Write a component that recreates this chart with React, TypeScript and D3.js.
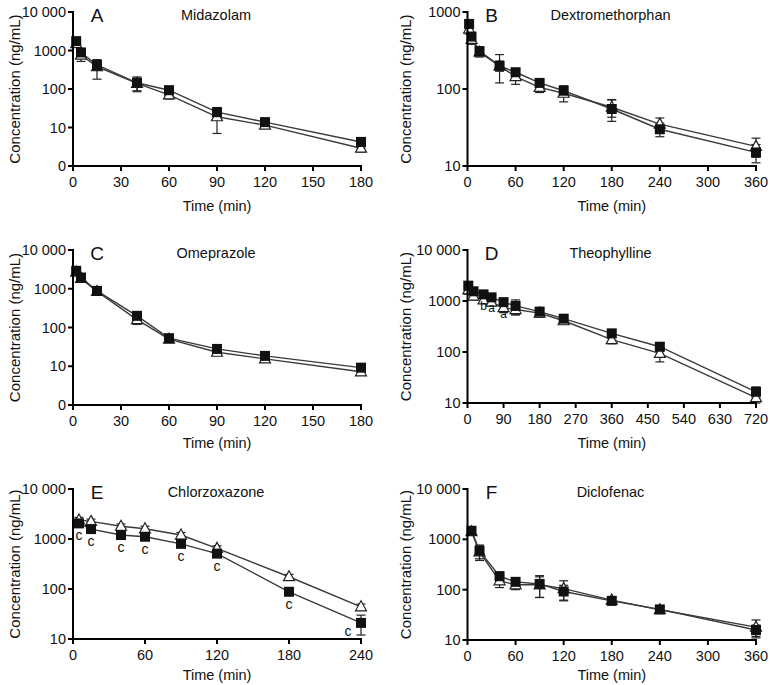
import React from "react";
import * as d3 from "d3";

// ---------- data ----------
const midazolamTime = [2, 5, 15, 40, 60, 90, 120, 180];
const midazolamSq = [1750, 890, 420, 145, 93, 25, 13.8, 4.2];
const midazolamSqSd = [250, 120, 80, 60, 25, 8, 2, 1.3];
const midazolamTri = [1500, 760, 380, 140, 70, 19, 11.5, 2.9];
const midazolamTriSd = [200, 240, 200, 50, 15, 12, 1.5, 0.6];

const dextroTime = [2, 5, 15, 40, 60, 90, 120, 180, 240, 360];
const dextroSq = [700, 480, 310, 200, 165, 120, 95, 55, 30, 15];
const dextroSqSd = [60, 60, 40, 30, 20, 15, 15, 17, 6, 4];
const dextroTri = [600, 440, 300, 200, 145, 105, 88, 58, 35, 18];
const dextroTriSd = [80, 60, 40, 80, 30, 15, 20, 15, 7, 5];

const omeprazoleTime = [2, 5, 15, 40, 60, 90, 120, 180];
const omeprazoleSq = [2900, 1950, 880, 200, 53, 28, 18.5, 9.2];
const omeprazoleSqSd = [500, 300, 100, 50, 8, 4, 3, 1.5];
const omeprazoleTri = [2700, 1850, 850, 160, 50, 23, 15.5, 7.2];
const omeprazoleTriSd = [500, 300, 100, 40, 8, 4, 2, 1];

const theoTime = [2, 15, 40, 60, 90, 120, 180, 240, 360, 480, 720];
const theoSq = [2000, 1550, 1350, 1180, 950, 800, 620, 450, 232, 127, 16.6];
const theoSqSd = [400, 200, 150, 150, 150, 250, 100, 60, 40, 25, 4];
const theoTri = [1650, 1250, 1050, 950, 740, 680, 580, 410, 175, 94, 12.7];
const theoTriSd = [300, 200, 150, 150, 150, 150, 100, 60, 30, 30, 3];
const theoLetters = ["", "", "b", "a", "a", "", "", "", "", "", ""];

const chlorTime = [5, 15, 40, 60, 90, 120, 180, 240];
const chlorSq = [2050, 1580, 1200, 1110, 800, 510, 88, 21];
const chlorSqSd = [300, 200, 150, 150, 100, 60, 12, 9];
const chlorTri = [2400, 2250, 1800, 1600, 1200, 650, 176, 44];
const chlorTriSd = [300, 250, 200, 200, 150, 80, 20, 6];
const chlorLetters = ["c", "c", "c", "c", "c", "c", "c", "c"];

const diclTime = [5, 15, 40, 60, 90, 120, 180, 240, 360];
const diclSq = [1480, 590, 185, 143, 130, 92, 60, 40.5, 15.8];
const diclSqSd = [200, 180, 40, 25, 60, 30, 10, 5, 4];
const diclTri = [1420, 560, 150, 125, 125, 105, 62, 40, 18];
const diclTriSd = [200, 180, 40, 25, 55, 45, 10, 5, 7];

const ticksA = [0, 30, 60, 90, 120, 150, 180];
const ticksB = [0, 60, 120, 180, 240, 300, 360];
const ticksD = [0, 90, 180, 270, 360, 450, 540, 630, 720];
const ticksE = [0, 60, 120, 180, 240];
const yTicks4 = [1, 10, 100, 1000, 10000];
const yTicks3 = [10, 100, 1000];
const yTicksD = [10, 100, 1000, 10000];

const fmtY = (v: number) => (v === 1 ? "0" : v === 10000 ? "10 000" : String(v));

const FONT = "'Liberation Sans', Arial, Helvetica, sans-serif";

type PanelProps = {
  letter: string;
  title: string;
  x0: number; x1: number; yTop: number; yBot: number;
  xMax: number; yMin: number; yMax: number;
  xTicks: number[]; yTicks: number[];
  time: number[];
  sq: number[]; sqSd: number[];
  tri: number[]; triSd: number[];
  letters?: string[];
  letterOn?: "tri" | "sq";
  yTitleX: number;
  xTitleOff: number;
};

function Panel(p: PanelProps) {
  const x = d3.scaleLinear().domain([0, p.xMax]).range([p.x0, p.x1]);
  const y = d3.scaleLog().domain([p.yMin, p.yMax]).range([p.yBot, p.yTop]);
  const line = d3.line<[number, number]>().x((d) => x(d[0])).y((d) => y(d[1]));
  const sqPts = p.time.map((t, i) => [t, p.sq[i]] as [number, number]);
  const triPts = p.time.map((t, i) => [t, p.tri[i]] as [number, number]);
  const clampLow = (v: number) => Math.max(v, p.yMin);
  const errBar = (t: number, m: number, sd: number, key: string) => {
    const cx = x(t);
    const yHi = y(Math.min(m + sd, p.yMax));
    const yLo = m - sd > 0 ? y(clampLow(m - sd)) : p.yBot;
    return (
      <g key={key} stroke="#222" strokeWidth={1.2}>
        <line x1={cx} x2={cx} y1={yHi} y2={yLo} />
        <line x1={cx - 4.5} x2={cx + 4.5} y1={yHi} y2={yHi} />
        <line x1={cx - 4.5} x2={cx + 4.5} y1={yLo} y2={yLo} />
      </g>
    );
  };
  const midX = (p.x0 + p.x1) / 2;
  const midY = (p.yTop + p.yBot) / 2;
  return (
    <g fontFamily={FONT}>
      {p.time.map((t, i) => errBar(t, p.tri[i], p.triSd[i], "te" + i))}
      {p.time.map((t, i) => errBar(t, p.sq[i], p.sqSd[i], "se" + i))}
      <path d={line(triPts) || ""} fill="none" stroke="#3a3a3a" strokeWidth={1.4} />
      <path d={line(sqPts) || ""} fill="none" stroke="#3a3a3a" strokeWidth={1.4} />
      {triPts.map((d, i) => (
        <path
          key={"t" + i}
          d={`M${x(d[0])},${y(d[1]) - 6}L${x(d[0]) + 5.5},${y(d[1]) + 4}L${x(d[0]) - 5.5},${y(d[1]) + 4}Z`}
          fill="#fff"
          stroke="#222"
          strokeWidth={1.2}
        />
      ))}
      {sqPts.map((d, i) => (
        <rect key={"s" + i} x={x(d[0]) - 5} y={y(d[1]) - 5} width={10} height={10} fill="#111" />
      ))}
      {p.letters &&
        p.letters.map((l, i) => {
          if (!l) return null;
          const base = p.letterOn === "tri" ? triPts[i] : sqPts[i];
          const last = i === p.letters!.length - 1 && p.letterOn === "sq";
          const lx = last ? x(base[0]) - 13 : x(base[0]);
          const ly = last ? y(base[1]) + 13 : y(base[1]) + (p.letterOn === "tri" ? 10 : 17);
          return (
            <text key={"l" + i} x={lx} y={ly} textAnchor="middle" fontSize={p.letterOn === "tri" ? 12 : 14} fill="#111">
              {l}
            </text>
          );
        })}
      <line x1={p.x0} x2={p.x0} y1={p.yTop - 1} y2={p.yBot + 1} stroke="#000" strokeWidth={2} />
      <line x1={p.x0 - 1} x2={p.x1 + 1} y1={p.yBot} y2={p.yBot} stroke="#000" strokeWidth={2} />
      {p.yTicks.map((v) => (
        <g key={"yt" + v}>
          <line x1={p.x0 - 5} x2={p.x0} y1={y(v)} y2={y(v)} stroke="#000" strokeWidth={2} />
          <text x={p.x0 - 7} y={y(v) + 5} textAnchor="end" fontSize={14.5} fill="#111">
            {fmtY(v)}
          </text>
        </g>
      ))}
      {p.xTicks.map((v) => (
        <g key={"xt" + v}>
          <line x1={x(v)} x2={x(v)} y1={p.yBot} y2={p.yBot + 5} stroke="#000" strokeWidth={2} />
          <text x={x(v)} y={p.yBot + 21} textAnchor="middle" fontSize={14.5} fill="#111">
            {v}
          </text>
        </g>
      ))}
      <text x={midX} y={p.yBot + p.xTitleOff} textAnchor="middle" fontSize={14.5} fill="#111">
        Time (min)
      </text>
      <text
        transform={`translate(${p.yTitleX},${midY}) rotate(-90)`}
        textAnchor="middle"
        dy="0.35em"
        fontSize={15}
        fill="#111"
      >
        Concentration (ng/mL)
      </text>
      <text x={p.x0 + 24} y={p.yTop + 10} textAnchor="middle" fontSize={19} fill="#111">
        {p.letter}
      </text>
      <text x={p.x0 + 143} y={p.yTop + 8} textAnchor="middle" fontSize={14.5} fill="#111">
        {p.title}
      </text>
    </g>
  );
}

export default function App() {
  const L = { x0: 73, x1: 361, yTitleX: 15 };
  const R = { x0: 467.5, x1: 756, yTitleX: 406 };
  return (
    <svg width={771} height={685} style={{ position: "absolute", left: 0, top: 0, background: "#fff" }}>
      <rect width={771} height={685} fill="#fff" />
      <Panel {...L} letter="A" title="Midazolam" yTop={12} yBot={166} xMax={180} yMin={1} yMax={10000}
        xTicks={ticksA} yTicks={yTicks4} time={midazolamTime} sq={midazolamSq} sqSd={midazolamSqSd}
        tri={midazolamTri} triSd={midazolamTriSd} xTitleOff={45} />
      <Panel {...R} letter="B" title="Dextromethorphan" yTop={12} yBot={166} xMax={360} yMin={10} yMax={1000}
        xTicks={ticksB} yTicks={yTicks3} time={dextroTime} sq={dextroSq} sqSd={dextroSqSd}
        tri={dextroTri} triSd={dextroTriSd} xTitleOff={45} />
      <Panel {...L} letter="C" title="Omeprazole" yTop={250} yBot={405} xMax={180} yMin={1} yMax={10000}
        xTicks={ticksA} yTicks={yTicks4} time={omeprazoleTime} sq={omeprazoleSq} sqSd={omeprazoleSqSd}
        tri={omeprazoleTri} triSd={omeprazoleTriSd} xTitleOff={43} />
      <Panel {...R} letter="D" title="Theophylline" yTop={250} yBot={403} xMax={720} yMin={10} yMax={10000}
        xTicks={ticksD} yTicks={yTicksD} time={theoTime} sq={theoSq} sqSd={theoSqSd}
        tri={theoTri} triSd={theoTriSd} letters={theoLetters} letterOn="tri" xTitleOff={45} />
      <Panel {...L} letter="E" title="Chlorzoxazone" yTop={489} yBot={639} xMax={240} yMin={10} yMax={10000}
        xTicks={ticksE} yTicks={yTicksD} time={chlorTime} sq={chlorSq} sqSd={chlorSqSd}
        tri={chlorTri} triSd={chlorTriSd} letters={chlorLetters} letterOn="sq" xTitleOff={41} />
      <Panel {...R} letter="F" title="Diclofenac" yTop={489} yBot={640} xMax={360} yMin={10} yMax={10000}
        xTicks={ticksB} yTicks={yTicksD} time={diclTime} sq={diclSq} sqSd={diclSqSd}
        tri={diclTri} triSd={diclTriSd} xTitleOff={40} />
    </svg>
  );
}
